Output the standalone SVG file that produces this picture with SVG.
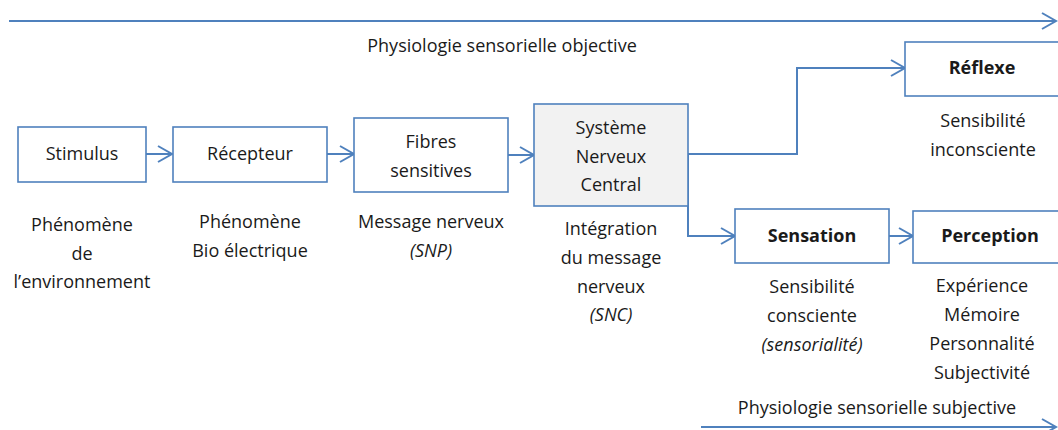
<svg xmlns="http://www.w3.org/2000/svg" width="1058" height="430" viewBox="0 0 1058 430">
<style>
text{font-family:"Open Sans","Noto Sans","Liberation Sans",sans-serif;font-size:18px;fill:#1a1a1a;text-anchor:middle}
.b{font-weight:bold}
.i{font-style:italic}
.box{fill:#fff;stroke:#4f81bd;stroke-width:1.6}
.gray{fill:#f2f2f2}
.ln{fill:none;stroke:#4f81bd;stroke-width:2;marker-end:url(#ah)}
</style>
<defs>
<marker id="ah" markerUnits="userSpaceOnUse" markerWidth="20" markerHeight="20" viewBox="0 0 20 20" refX="15" refY="10" orient="auto">
<path d="M1,2 L15,10 L1,18" fill="none" stroke="#4f81bd" stroke-width="2"/>
</marker>
</defs>
<rect width="1058" height="430" fill="#fff"/>
<g id="connectors">
<path class="ln" d="M9,21 H1056"/>
<path class="ln" d="M146,154 H172"/>
<path class="ln" d="M327,154 H354"/>
<path class="ln" d="M508,155 H534"/>
<path class="ln" d="M688,154 H797 V68 H905"/>
<path class="ln" d="M688,154 V236 H735"/>
<path class="ln" d="M889,236 H913"/>
<path class="ln" d="M701,427 H1056"/>
</g>
<g id="label-objective"><text x="502" y="52">Physiologie sensorielle objective</text></g>
<g id="label-subjective"><text x="877" y="414">Physiologie sensorielle subjective</text></g>
<g id="stimulus">
<rect class="box" x="18" y="127" width="128" height="55"/>
<text x="82" y="160">Stimulus</text>
<text x="82" y="231">Phénomène</text>
<text x="82" y="260">de</text>
<text x="82" y="288">l’environnement</text>
</g>
<g id="recepteur">
<rect class="box" x="173" y="127" width="154" height="55"/>
<text x="250" y="160">Récepteur</text>
<text x="250" y="228">Phénomène</text>
<text x="250" y="257">Bio électrique</text>
</g>
<g id="fibres">
<rect class="box" x="354" y="118" width="154" height="74"/>
<text x="431" y="148">Fibres</text>
<text x="431" y="177">sensitives</text>
<text x="431" y="228">Message nerveux</text>
<text x="431" y="257" class="i">(SNP)</text>
</g>
<g id="snc">
<rect class="box gray" x="534" y="104" width="154" height="102"/>
<text x="611" y="134">Système</text>
<text x="611" y="163">Nerveux</text>
<text x="611" y="191">Central</text>
<text x="611" y="235">Intégration</text>
<text x="611" y="264">du message</text>
<text x="611" y="293">nerveux</text>
<text x="611" y="321" class="i">(SNC)</text>
</g>
<g id="reflexe">
<rect class="box" x="905" y="42" width="160" height="54"/>
<text x="982" y="74" class="b">Réflexe</text>
<text x="983" y="127">Sensibilité</text>
<text x="983" y="156">inconsciente</text>
</g>
<g id="sensation">
<rect class="box" x="735" y="209" width="154" height="54"/>
<text x="812" y="242" class="b">Sensation</text>
<text x="812" y="293">Sensibilité</text>
<text x="812" y="322">consciente</text>
<text x="812" y="351" class="i">(sensorialité)</text>
</g>
<g id="perception">
<rect class="box" x="913" y="211" width="160" height="52"/>
<text x="990" y="242" class="b">Perception</text>
<text x="982" y="292">Expérience</text>
<text x="982" y="321">Mémoire</text>
<text x="982" y="350">Personnalité</text>
<text x="982" y="379">Subjectivité</text>
</g>
</svg>
